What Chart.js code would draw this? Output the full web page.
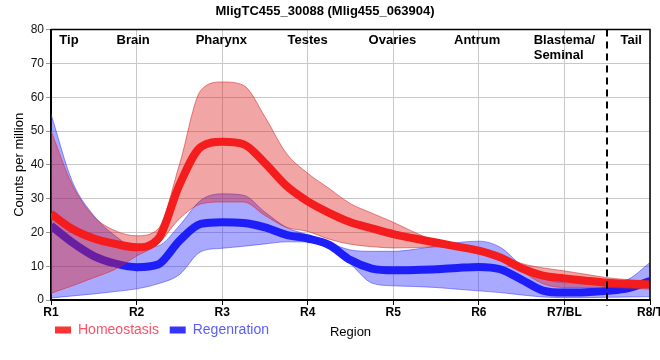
<!DOCTYPE html>
<html>
<head>
<meta charset="utf-8">
<script src="https://cdn.jsdelivr.net/npm/chart.js@4.4.0/dist/chart.umd.min.js"></script>
<style>
  body { margin: 0; background: #fff; }
  #wrap { width: 660px; height: 360px; }
</style>
</head>
<body>
<div id="wrap"><canvas id="chart" width="660" height="360"></canvas></div>
<script>
// positions along the body (R1 = 1 ... R8/T = 8)
const pos = [1, 1.25, 1.5, 1.75, 2, 2.25, 2.5, 2.75, 3, 3.25, 3.5, 3.75, 4, 4.25, 4.5, 4.75,
             5, 5.25, 5.5, 5.75, 6, 6.25, 6.5, 6.75, 7, 7.25, 7.5, 7.75, 8];

const homMean = [25.5, 21, 18.2, 16.6, 15.6, 18, 34, 45.3, 46.8, 46.1, 40.5, 33.8, 29.2, 25.8, 23, 21.2,
                 19.5, 18.2, 17, 15.8, 14.6, 12.6, 9.4, 7.2, 6.4, 5.7, 5.1, 4.8, 4.6];
const homHi = [50, 34, 24.7, 20.5, 19, 21, 40, 62, 64.5, 63.5, 54.2, 43.4, 37.5, 33, 28.5, 25.7,
               23, 20, 17.5, 16.5, 15.2, 13.3, 10.8, 9.5, 8.6, 7.6, 6.6, 6, 5.6];
const homLo = [2, 4.2, 6.6, 9.1, 13, 16.6, 24, 28.4, 29, 29, 25, 21.5, 20.3, 18, 16.5, 15.8,
               15.4, 15.5, 15.7, 15, 14, 11.8, 8.5, 4.8, 3.7, 3.7, 3.7, 3.5, 3.2];

const regMean = [22, 17, 13, 10.8, 9.7, 10.5, 17.5, 22.5, 23, 22.8, 21.5, 19.3, 18.2, 16.3, 11.8, 9.3,
                 8.8, 8.9, 9.1, 9.5, 9.8, 9.1, 6, 2.8, 2.2, 2.3, 2.7, 3.5, 5.6];
const regHi = [55, 35, 25, 19, 15.5, 16, 22, 29.5, 31.4, 31, 26, 21.5, 19.3, 17, 14.8, 14.4,
               14.4, 15, 16, 17, 17.4, 15.6, 10.2, 6.5, 5.1, 5.1, 5.1, 6.2, 11.1];
const regLo = [0.6, 1.2, 1.8, 2.5, 3.3, 4.8, 7.5, 14.3, 15.3, 15.9, 16.6, 17.2, 17.2, 15, 10.6, 5,
               4.2, 4, 3.7, 3.2, 2.7, 2.2, 1.5, 0.9, 0.7, 0.7, 0.8, 0.9, 1];

const xTickLabels = ["R1", "R2", "R3", "R4", "R5", "R6", "R7/BL", "R8/T"];
const regionNames = ["Tip", "Brain", "Pharynx", "Testes", "Ovaries", "Antrum", "Blastema/\nSeminal", "Tail"];
const regionAt = [1.21, 1.96, 2.99, 4.0, 4.99, 5.98, 7.0, 7.78];
const tailBoundary = 7.5;

Chart.defaults.font.family = "'Liberation Sans', Arial, sans-serif";
Chart.defaults.color = "#000";

const pts = arr => pos.map((x, i) => ({ x: x, y: arr[i] }));

const line = { pointRadius: 0, pointHoverRadius: 0, cubicInterpolationMode: 'monotone', fill: false };

const overlay = {
  id: 'overlay',
  afterDatasetsDraw(chart) {
    const { ctx, chartArea: a, scales: { x } } = chart;
    ctx.save();
    // frame top / right
    ctx.strokeStyle = '#000';
    ctx.lineWidth = 1.5;
    ctx.beginPath();
    ctx.moveTo(a.left, a.top);
    ctx.lineTo(a.right, a.top);
    ctx.lineTo(a.right, a.bottom);
    ctx.stroke();
    // tail boundary
    const bx = Math.round(x.getPixelForValue(tailBoundary));
    ctx.lineWidth = 2;
    ctx.setLineDash([7, 5]);
    ctx.beginPath();
    ctx.moveTo(bx, a.top);
    ctx.lineTo(bx, a.bottom + 6);
    ctx.stroke();
    ctx.restore();
  },
  afterDraw(chart) {
    const { ctx, chartArea: a, scales: { x } } = chart;
    ctx.save();
    ctx.font = "bold 13px 'Liberation Sans', Arial, sans-serif";
    ctx.fillStyle = '#000';
    ctx.textAlign = 'left';
    ctx.textBaseline = 'middle';
    regionNames.forEach((name, i) => {
      const lines = name.split('\n');
      const w = Math.max(...lines.map(s => ctx.measureText(s).width));
      const x0 = x.getPixelForValue(regionAt[i]) - w / 2;
      lines.forEach((s, j) => ctx.fillText(s, x0, a.top + 11 + j * 15));
    });
    ctx.restore();
  }
};

const shiftLegend = {
  id: 'shiftLegend',
  afterLayout(chart) {
    chart.legend.left += 52;
    chart.legend.right += 52;
  }
};

new Chart(document.getElementById('chart'), {
  type: 'line',
  data: {
    datasets: [
      { ...line, label: 'Homeostasis', data: pts(homMean), borderColor: '#f41c1c', backgroundColor: '#f41c1c', borderWidth: 8, order: 0 },
      { ...line, label: 'hom_hi', data: pts(homHi), borderColor: 'rgba(215,40,40,0.55)', backgroundColor: 'rgba(220,30,30,0.4)', borderWidth: 1, fill: '+1', order: 1 },
      { ...line, label: 'hom_lo', data: pts(homLo), borderColor: 'rgba(215,40,40,0.55)', borderWidth: 1, order: 1 },
      { ...line, label: 'Regenration', data: pts(regMean), borderColor: '#1e1ef8', backgroundColor: '#1e1ef8', borderWidth: 8, order: 2 },
      { ...line, label: 'reg_hi', data: pts(regHi), borderColor: 'rgba(50,50,250,0.5)', backgroundColor: 'rgba(40,40,255,0.4)', borderWidth: 1, fill: '+1', order: 3 },
      { ...line, label: 'reg_lo', data: pts(regLo), borderColor: 'rgba(50,50,250,0.5)', borderWidth: 1, order: 3 }
    ]
  },
  options: {
    responsive: false,
    animation: false,
    events: [],
    layout: { padding: { left: 0, right: 10, top: 0, bottom: 13 } },
    plugins: {
      title: {
        display: true,
        text: 'MligTC455_30088 (Mlig455_063904)',
        font: { size: 13, weight: 'bold' },
        color: '#000',
        padding: { top: 4, bottom: 10 }
      },
      legend: {
        position: 'bottom',
        align: 'start',
        labels: {
          font: { size: 14 },
          boxWidth: 16,
          boxHeight: 7,
          padding: 3,
          generateLabels(chart) {
            const colors = { Homeostasis: ['#ff3535', '#ff5068'], Regenration: ['#3535ff', '#5c5cff'] };
            return chart.data.datasets
              .map((ds, i) => ({ ds, i }))
              .filter(o => colors[o.ds.label])
              .map(o => ({
                // trailing gap before the next legend entry
                text: o.ds.label + '  ',
                datasetIndex: o.i,
                fillStyle: colors[o.ds.label][0],
                strokeStyle: colors[o.ds.label][0],
                lineWidth: 0,
                fontColor: colors[o.ds.label][1]
              }));
          }
        }
      },
      tooltip: { enabled: false }
    },
    scales: {
      x: {
        type: 'linear',
        min: 1,
        max: 8,
        ticks: {
          stepSize: 1,
          autoSkip: false,
          maxRotation: 0,
          padding: 0,
          font: { size: 12, weight: 'bold' },
          color: '#000',
          callback: v => xTickLabels[v - 1]
        },
        grid: { color: '#c8c8c8', tickColor: '#000', tickLength: 5, lineWidth: 1 },
        border: { color: '#000', width: 2 },
        title: { display: true, text: 'Region', font: { size: 13 }, color: '#000', padding: { top: 0, bottom: -20 } },
        afterFit(scale) {
          scale.height = 20;
          scale.paddingLeft = 0;
          scale.paddingRight = 0;
        }
      },
      y: {
        min: 0,
        max: 80,
        ticks: { stepSize: 10, padding: 2, font: { size: 12 }, color: '#111' },
        grid: { color: '#c8c8c8', tickColor: '#999', tickLength: 5, lineWidth: 1 },
        border: { color: '#000', width: 2 },
        title: { display: true, text: 'Counts per million', font: { size: 13 }, color: '#000', padding: { top: 12, bottom: 0 } },
        afterFit(scale) {
          scale.width = 51;
          scale.paddingTop = 0;
          scale.paddingBottom = 0;
        }
      }
    }
  },
  plugins: [shiftLegend, overlay]
});
</script>
</body>
</html>
